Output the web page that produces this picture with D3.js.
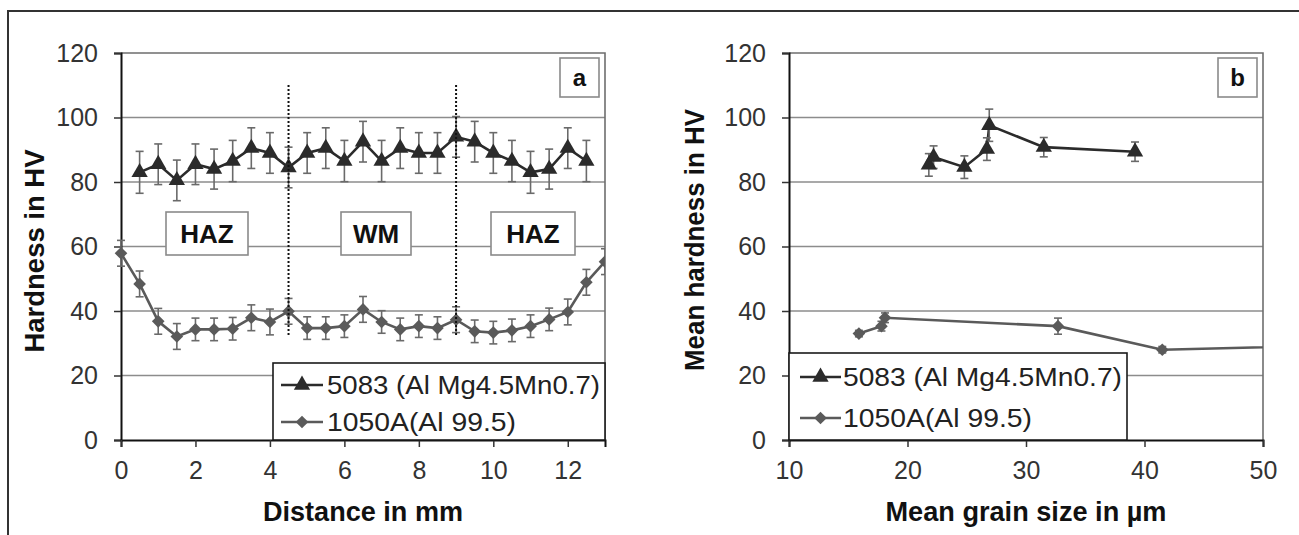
<!DOCTYPE html>
<html><head><meta charset="utf-8">
<script src="https://cdn.jsdelivr.net/npm/d3@7/dist/d3.min.js"></script>
<style>
body{margin:0;background:#fff}
svg{display:block}
text{font-family:"Liberation Sans",Arial,Helvetica,sans-serif}
</style>
</head><body>
<svg id="c" width="1299" height="535"></svg>
<script>
// ---------- Panel a data ----------
const distA5083 = [0.5,1,1.5,2,2.5,3,3.5,4,4.5,5,5.5,6,6.5,7,7.5,8,8.5,9,9.5,10,10.5,11,11.5,12,12.5];
const hvA5083   = [83,85.5,80.5,85.5,84,86.5,90.5,89,84.5,89,90.5,86.5,92.5,86.5,90.5,89,89,94,92.5,89,86.5,83,84,90.5,86.5];
const errA5083  = [6.5,6.3,6.3,6.3,6.2,6.4,6.3,6.3,6.3,6.3,6.3,6.4,6.3,6.4,6.3,6.3,6.3,6.3,6.3,6.3,6.4,6.5,6.2,6.3,6.4];
const distA1050 = [0,0.5,1,1.5,2,2.5,3,3.5,4,4.5,5,5.5,6,6.5,7,7.5,8,8.5,9,9.5,10,10.5,11,11.5,12,12.5,13];
const hvA1050   = [57.9,48.4,36.8,32.1,34.3,34.3,34.5,37.9,36.6,39.9,34.7,34.7,35.3,40.5,36.6,34.3,35.3,34.7,37.3,33.7,33.3,34,35.3,37.4,39.7,48.9,55.3];
const errA1050  = [4,4,4,4,3.5,3.5,3.5,4,4,4,3.5,3.5,3.5,4,3.5,3.5,3.5,3.5,4,3.5,3.5,3.5,3.5,3.5,4,4,4];
const zoneLines = [4.5, 9];
const zoneLabels = ["HAZ","WM","HAZ"];
const distTicks = [0,2,4,6,8,10,12];
// ---------- Panel b data ----------
const grain5083 = [21.8,22.2,24.8,26.7,26.9,31.5,39.2];
const hvB5083   = [85.3,87.7,84.6,90.2,97.6,90.8,89.4];
const errB5083  = [3.5,3.5,3.5,3.5,5,3,3];
const grain1050 = [15.9,17.8,18.1,32.7,41.5,60];
const hvB1050   = [33.0,35.3,37.9,35.3,28.0,29.7];
const errB1050  = [1,1.5,1.5,2.5,1,1];
const grainTicks = [10,20,30,40,50];
const hvTicks = [0,20,40,60,80,100,120];
const seriesNames = ["5083 (Al Mg4.5Mn0.7)","1050A(Al 99.5)"];

const svg = d3.select("#c");
// outer figure border
svg.append("path").attr("d","M8,535V11H1299").attr("fill","none").attr("stroke","#333").attr("stroke-width",2);

const C_DARK = "#2b2b2b", C_GRAY = "#5a5a5a", C_ERR = "#6a6a6a", C_GRID = "#8c8c8c";
const triPath = d3.symbol().type(d3.symbolTriangle).size(115)();
const diaPath = d3.symbol().type(d3.symbolSquare).size(80)();

function drawPanel(o){
  const g = svg.append("g");
  const x = d3.scaleLinear().domain(o.xDomain).range(o.xRange);
  const y = d3.scaleLinear().domain([0,120]).range([440,53]);
  const [x0,x1] = o.xRange;
  // gridlines
  g.append("g").selectAll("line").data(hvTicks.filter(v=>v>0&&v<120)).join("line")
    .attr("x1",x0).attr("x2",x1).attr("y1",d=>y(d)).attr("y2",d=>y(d))
    .attr("stroke",C_GRID).attr("stroke-width",1.3);
  // plot frame top/right
  g.append("path").attr("d",`M${x0},${y(120)}H${x1}V${y(0)}`).attr("fill","none").attr("stroke","#6e6e6e").attr("stroke-width",1.6);
  // y axis
  const ya = g.append("g").attr("transform",`translate(${x0},0)`)
    .call(d3.axisLeft(y).tickValues(hvTicks).tickSize(7).tickPadding(16).tickFormat(d3.format("d")));
  ya.select(".domain").attr("stroke","#111").attr("stroke-width",2);
  ya.selectAll(".tick line").attr("stroke","#333").attr("stroke-width",1.5);
  ya.selectAll(".tick text").attr("font-size",25).attr("fill","#333").attr("font-family",'"Liberation Sans",Arial,sans-serif');
  // x axis
  const xa = g.append("g").attr("transform",`translate(0,${y(0)})`)
    .call(d3.axisBottom(x).tickValues(o.xTicks).tickSize(7).tickPadding(14).tickFormat(d3.format("d")));
  xa.select(".domain").attr("stroke","#111").attr("stroke-width",2);
  xa.selectAll(".tick line").attr("stroke","#333").attr("stroke-width",1.5);
  xa.selectAll(".tick text").attr("font-size",25).attr("fill","#333").attr("font-family",'"Liberation Sans",Arial,sans-serif');
  // axis titles
  g.append("text").attr("x",(x0+x1)/2).attr("y",521).attr("text-anchor","middle")
    .attr("font-size",27).attr("font-weight","bold").attr("fill","#111")
    .attr("textLength",o.xTitleLen).attr("lengthAdjust","spacingAndGlyphs").text(o.xTitle);
  g.append("text").attr("transform",`translate(${o.yTitleX},${o.yTitleY}) rotate(-90)`)
    .attr("text-anchor","middle").attr("dy","0.35em")
    .attr("font-size",27).attr("font-weight","bold").attr("fill","#111")
    .attr("textLength",o.yTitleLen).attr("lengthAdjust","spacingAndGlyphs").text(o.yTitle);
  // clip
  const cid = "clip"+o.id;
  svg.append("clipPath").attr("id",cid).append("rect").attr("x",x0-10).attr("y",40).attr("width",x1-x0+10).attr("height",420);
  const pg = g.append("g").attr("clip-path",`url(#${cid})`);
  if (o.extra) o.extra(g,x,y);
  const line = d3.line().x(d=>x(d[0])).y(d=>y(d[1]));
  o.series.forEach(s=>{
    const pts = s.xs.map((v,i)=>[v,s.ys[i],s.es[i]]);
    pg.append("path").datum(pts).attr("d",line).attr("fill","none").attr("stroke",s.color).attr("stroke-width",2.6);
    const eb = pg.append("g").attr("stroke",C_ERR).attr("stroke-width",1.6);
    pts.forEach(p=>{
      const cx = x(p[0]), t = y(p[1]+p[2]), b = y(p[1]-p[2]);
      eb.append("line").attr("x1",cx).attr("x2",cx).attr("y1",t).attr("y2",b);
      eb.append("line").attr("x1",cx-4).attr("x2",cx+4).attr("y1",t).attr("y2",t);
      eb.append("line").attr("x1",cx-4).attr("x2",cx+4).attr("y1",b).attr("y2",b);
    });
    pg.append("g").selectAll("path").data(pts).join("path")
      .attr("d",s.marker).attr("fill",s.color)
      .attr("transform",d=>`translate(${x(d[0])},${y(d[1])})${s.rot?" rotate(45)":""}`);
  });
  // legend
  const L = o.legend;
  g.append("rect").attr("x",L.x).attr("y",L.y).attr("width",L.w).attr("height",L.h)
    .attr("fill","#fff").attr("stroke","#1a1a1a").attr("stroke-width",1.6);
  o.series.forEach((s,i)=>{
    const ry = L.rows[i];
    g.append("line").attr("x1",L.sx0).attr("x2",L.sx1).attr("y1",ry).attr("y2",ry).attr("stroke",s.color).attr("stroke-width",2.6);
    g.append("path").attr("d",s.marker).attr("fill",s.color)
      .attr("transform",`translate(${(L.sx0+L.sx1)/2},${ry})${s.rot?" rotate(45)":""}`);
    g.append("text").attr("x",L.tx).attr("y",ry).attr("dy","0.36em").attr("font-size",25).attr("fill","#222")
      .attr("textLength",L.tl[i]).attr("lengthAdjust","spacingAndGlyphs").text(seriesNames[i]);
  });
  // panel letter
  g.append("rect").attr("x",x1-45).attr("y",58).attr("width",39).attr("height",39)
    .attr("fill","#fff").attr("stroke","#8a8a8a").attr("stroke-width",1.6);
  g.append("text").attr("x",x1-25.5).attr("y",77.5).attr("dy","0.36em").attr("text-anchor","middle")
    .attr("font-size",24).attr("font-weight","bold").attr("fill","#111").text(o.letter);
}

drawPanel({
  id:"a", xDomain:[0,13], xRange:[121,605], xTicks:distTicks,
  xTitle:"Distance in mm", xTitleLen:200, yTitle:"Hardness in HV", yTitleX:35, yTitleY:251, yTitleLen:203,
  letter:"a",
  series:[
    {xs:distA5083, ys:hvA5083, es:errA5083, color:C_DARK, marker:triPath, rot:false},
    {xs:distA1050, ys:hvA1050, es:errA1050, color:C_GRAY, marker:diaPath, rot:true}
  ],
  legend:{x:273,y:363,w:332,h:77,rows:[385,422],sx0:281,sx1:323,tx:327,tl:[273,189]},
  extra:(g,x,y)=>{
    g.append("g").selectAll("line").data(zoneLines).join("line")
      .attr("x1",d=>x(d)).attr("x2",d=>x(d)).attr("y1",85).attr("y2",337)
      .attr("stroke","#111").attr("stroke-width",2).attr("stroke-dasharray","2,2");
    const boxes = [[166,82],[341,70],[491,84]];
    zoneLabels.forEach((t,i)=>{
      g.append("rect").attr("x",boxes[i][0]).attr("y",212).attr("width",boxes[i][1]).attr("height",43)
        .attr("fill","#fff").attr("stroke","#8a8a8a").attr("stroke-width",1.6);
      g.append("text").attr("x",boxes[i][0]+boxes[i][1]/2).attr("y",233.5).attr("dy","0.36em").attr("text-anchor","middle")
        .attr("font-size",26).attr("font-weight","bold").attr("fill","#111").text(t);
    });
  }
});

drawPanel({
  id:"b", xDomain:[10,50], xRange:[789,1263], xTicks:grainTicks,
  xTitle:"Mean grain size in µm", xTitleLen:281, yTitle:"Mean hardness in HV", yTitleX:695, yTitleY:240, yTitleLen:262,
  letter:"b",
  series:[
    {xs:grain5083, ys:hvB5083, es:errB5083, color:C_DARK, marker:triPath, rot:false},
    {xs:grain1050, ys:hvB1050, es:errB1050, color:C_GRAY, marker:diaPath, rot:true}
  ],
  legend:{x:789,y:353,w:338,h:87,rows:[377,418],sx0:800,sx1:841,tx:843,tl:[279,189]}
});
</script>
</body></html>
